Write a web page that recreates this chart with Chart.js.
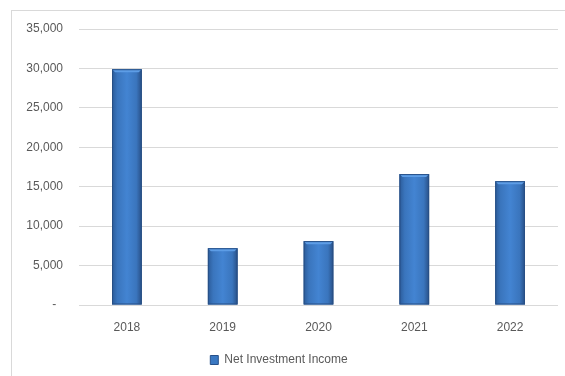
<!DOCTYPE html>
<html>
<head>
<meta charset="utf-8">
<script src="https://cdn.jsdelivr.net/npm/chart.js@4.4.0/dist/chart.umd.min.js"></script>
<style>
  body { margin: 0; background: #fff; }
  #wrap { position: relative; width: 565px; height: 376px; overflow: hidden; }
  #frame { position: absolute; left: 11px; top: 10px; width: 600px; height: 400px;
           border-left: 1px solid #d9d9d9; border-top: 1px solid #d9d9d9; }
  canvas { position: absolute; left: 0; top: 0; }
</style>
</head>
<body>
<div id="wrap">
  <div id="frame"></div>
  <canvas id="chart" width="565" height="376"></canvas>
</div>
<script>
const years = ["2018", "2019", "2020", "2021", "2022"];
const netInvestmentIncome = [29900, 7200, 8100, 16600, 15700];
const seriesName = "Net Investment Income";

const textColor = "#595959";
const gridColor = "#d9d9d9";

// shaded, bevelled look for each bar on top of the plain fill
const barShading = {
  id: "barShading",
  afterDatasetsDraw(chart) {
    const ctx = chart.ctx;
    chart.getDatasetMeta(0).data.forEach(bar => {
      const { x, y, base, width } = bar.getProps(["x", "y", "base", "width"], true);
      const l = x - width / 2, r = x + width / 2;
      const g = ctx.createLinearGradient(l, 0, r, 0);
      g.addColorStop(0, "#2b5b99");
      g.addColorStop(0.18, "#3a75bd");
      g.addColorStop(0.5, "#4384d2");
      g.addColorStop(0.82, "#3a75bd");
      g.addColorStop(1, "#284f86");
      ctx.save();
      ctx.fillStyle = g;
      ctx.fillRect(l, y, width, base - y);
      // top cap
      ctx.fillStyle = "#5d9de6";
      ctx.beginPath();
      ctx.moveTo(l, y);
      ctx.lineTo(r, y);
      ctx.lineTo(r - 3, y + 3);
      ctx.lineTo(l + 3, y + 3);
      ctx.closePath();
      ctx.fill();
      ctx.strokeStyle = "#274f85";
      ctx.lineWidth = 1;
      ctx.strokeRect(l + 0.5, y + 0.5, width - 1, base - y - 1);
      ctx.restore();
    });
  }
};

new Chart(document.getElementById("chart"), {
  type: "bar",
  data: {
    labels: years,
    datasets: [{
      label: seriesName,
      data: netInvestmentIncome,
      backgroundColor: "#3a78c2",
      borderColor: "#27508a",
      borderWidth: 1,
      barPercentage: 0.62,
      categoryPercentage: 0.5
    }]
  },
  options: {
    responsive: false,
    animation: false,
    layout: { padding: { top: 29, right: 7, bottom: 0, left: 0 } },
    plugins: {
      tooltip: { enabled: false },
      legend: {
        position: "bottom",
        labels: {
          color: textColor,
          font: { family: "Liberation Sans", size: 12 },
          boxWidth: 8,
          boxHeight: 9,
          padding: 10
        }
      }
    },
    scales: {
      x: {
        afterFit: s => { s.height = 39; },
        grid: { display: false },
        border: { display: false },
        ticks: { color: textColor, font: { family: "Liberation Sans", size: 12 }, padding: 7 }
      },
      y: {
        min: 0,
        max: 35000,
        afterFit: s => { s.width = 79; },
        grid: { color: gridColor, drawTicks: false },
        border: { display: false },
        ticks: {
          stepSize: 5000,
          color: textColor,
          font: { family: "Liberation Sans", size: 12 },
          padding: 16,
          callback: v => v === 0 ? "-  " : v.toLocaleString("en-US")
        }
      }
    }
  },
  plugins: [barShading]
});
</script>
</body>
</html>
